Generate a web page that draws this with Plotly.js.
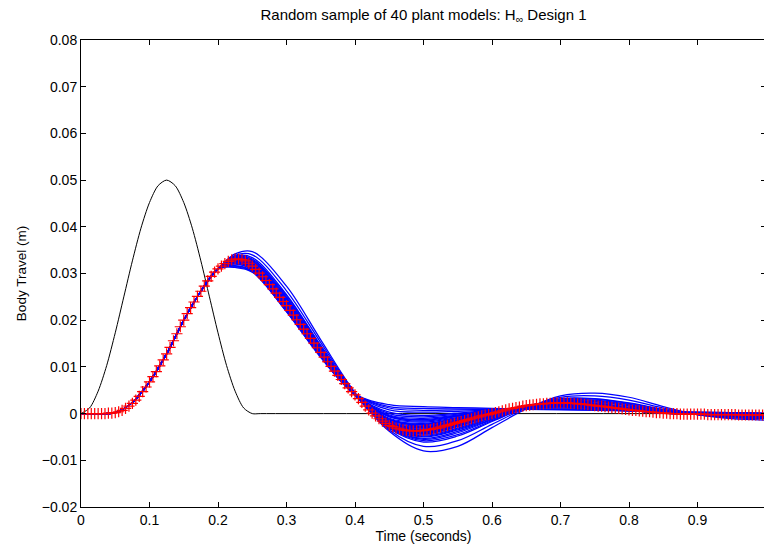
<!DOCTYPE html>
<html><head><meta charset="utf-8">
<script src="https://cdn.plot.ly/plotly-3.0.1.min.js"></script>
<style>html,body{margin:0;padding:0;overflow:hidden;background:#fff}#chart{width:768px;height:544px}</style>
</head><body><div id="chart"></div>
<script>
// Road input (black)
const roadTime = [0, 0.0125, 0.025, 0.0375, 0.05, 0.0625, 0.075, 0.0875, 0.1, 0.1125, 0.125, 0.1375, 0.15, 0.1625, 0.175, 0.1875, 0.2, 0.2125, 0.225, 0.2375, 0.25, 0.2625, 1.0];
const roadHeight = [0, 0.0012, 0.0048, 0.0103, 0.0173, 0.0250, 0.0327, 0.0397, 0.0452, 0.0488, 0.0500, 0.0488, 0.0452, 0.0397, 0.0327, 0.0250, 0.0173, 0.0103, 0.0048, 0.0012, 0, 0, 0];

// Random plant models (blue): common rise, then individual tails
const riseTime = [0, 0.025, 0.05, 0.075, 0.1, 0.125, 0.15, 0.175, 0.2];
const riseBody = [0, 0, 0.0002, 0.0024, 0.0068, 0.0128, 0.0200, 0.0262, 0.0310];
const tailTime = [0.225, 0.25, 0.3, 0.35, 0.4, 0.45, 0.5, 0.55, 0.6, 0.65, 0.7, 0.75, 0.8, 0.85, 0.9, 0.95, 1.0];
const model01 = [.0313, .0303, .0218, .0120, .0042, .0019, .0015, .0013, .0011, .0009, .0008, .0007, .0006, .0004, .0003, .0002, .0001];
const model02 = [.0314, .0304, .0219, .0121, .0042, .0015, .0011, .0010, .0010, .0010, .0009, .0008, .0006, .0004, .0003, .0002, .0001];
const model03 = [.0316, .0305, .0220, .0122, .0042, .0012, .0007, .0008, .0009, .0010, .0010, .0009, .0006, .0004, .0002, .0001, .0000];
const model04 = [.0317, .0306, .0221, .0123, .0042, .0008, .0003, .0005, .0008, .0011, .0012, .0009, .0006, .0003, .0002, .0001, .0000];
const model05 = [.0320, .0308, .0223, .0124, .0041, .0003, -.0004, .0001, .0007, .0012, .0014, .0011, .0007, .0003, .0002, .0001, .0000];
const model06 = [.0322, .0309, .0224, .0125, .0041, -.0003, -.0010, -.0003, .0006, .0013, .0015, .0012, .0007, .0003, .0001, .0000, -.0001];
const model07 = [.0324, .0311, .0226, .0127, .0041, -.0007, -.0016, -.0006, .0004, .0014, .0017, .0013, .0007, .0002, .0001, .0000, -.0001];
const model08 = [.0326, .0312, .0227, .0128, .0041, -.0012, -.0021, -.0009, .0003, .0015, .0019, .0014, .0007, .0002, .0000, -.0001, -.0002];
const model09 = [.0327, .0313, .0228, .0129, .0040, -.0016, -.0026, -.0013, .0002, .0015, .0020, .0015, .0008, .0002, .0000, -.0001, -.0002];
const model10 = [.0329, .0314, .0229, .0130, .0040, -.0020, -.0030, -.0015, .0001, .0016, .0021, .0016, .0008, .0001, -.0001, -.0002, -.0003];
const model11 = [.0330, .0315, .0230, .0130, .0040, -.0022, -.0033, -.0017, .0001, .0016, .0022, .0016, .0008, .0001, -.0001, -.0002, -.0003];
const model12 = [.0331, .0316, .0231, .0131, .0040, -.0025, -.0036, -.0019, .0000, .0017, .0023, .0017, .0008, .0001, -.0001, -.0002, -.0003];
const model13 = [.0332, .0318, .0234, .0133, .0040, -.0026, -.0039, -.0023, -.0002, .0017, .0024, .0019, .0010, .0002, -.0001, -.0003, -.0004];
const model14 = [.0333, .0320, .0237, .0135, .0041, -.0027, -.0042, -.0026, -.0004, .0016, .0025, .0021, .0012, .0003, -.0001, -.0003, -.0005];
const model15 = [.0334, .0323, .0241, .0137, .0041, -.0028, -.0046, -.0031, -.0007, .0015, .0026, .0023, .0014, .0004, -.0001, -.0004, -.0006];
const model16 = [.0335, .0326, .0244, .0140, .0042, -.0029, -.0050, -.0035, -.0010, .0015, .0028, .0026, .0017, .0005, -.0001, -.0005, -.0007];
const model17 = [.0336, .0329, .0249, .0143, .0042, -.0031, -.0055, -.0041, -.0013, .0014, .0029, .0029, .0020, .0007, -.0001, -.0006, -.0008];
const model18 = [.0337, .0334, .0255, .0146, .0043, -.0032, -.0061, -.0048, -.0017, .0013, .0032, .0032, .0023, .0009, -.0002, -.0007, -.0009];
const model19 = [.0339, .0340, .0263, .0152, .0044, -.0035, -.0070, -.0058, -.0023, .0012, .0035, .0038, .0029, .0012, -.0002, -.0009, -.0011];
const model20 = [.0342, .0347, .0273, .0158, .0045, -.0038, -.0080, -.0070, -.0030, .0010, .0038, .0044, .0035, .0015, -.0002, -.0011, -.0014];
const model21 = [.0321, .0308, .0223, .0124, .0041, .0000, -.0007, -.0001, .0006, .0012, .0015, .0011, .0007, .0003, .0001, .0000, -.0001];
const model22 = [.0323, .0310, .0225, .0126, .0041, -.0005, -.0013, -.0004, .0005, .0013, .0016, .0012, .0007, .0003, .0001, .0000, -.0001];
const model23 = [.0325, .0311, .0226, .0127, .0041, -.0010, -.0018, -.0008, .0004, .0014, .0018, .0013, .0007, .0002, .0001, -.0001, -.0001];
const model24 = [.0326, .0312, .0228, .0128, .0041, -.0014, -.0024, -.0011, .0002, .0015, .0019, .0014, .0008, .0002, .0000, -.0001, -.0002];
const model25 = [.0328, .0313, .0229, .0129, .0040, -.0018, -.0028, -.0014, .0001, .0016, .0021, .0016, .0008, .0002, .0000, -.0002, -.0002];
const model26 = [.0329, .0315, .0230, .0130, .0040, -.0021, -.0031, -.0016, .0001, .0016, .0022, .0016, .0008, .0001, -.0001, -.0002, -.0003];
const model27 = [.0331, .0316, .0231, .0131, .0040, -.0024, -.0035, -.0018, .0000, .0017, .0023, .0017, .0008, .0001, -.0001, -.0002, -.0003];
const model28 = [.0332, .0317, .0233, .0132, .0040, -.0026, -.0038, -.0021, -.0001, .0017, .0024, .0018, .0009, .0002, -.0001, -.0003, -.0004];
const model29 = [.0333, .0319, .0236, .0134, .0041, -.0027, -.0040, -.0024, -.0003, .0016, .0025, .0020, .0011, .0003, -.0001, -.0003, -.0005];
const model30 = [.0334, .0322, .0239, .0136, .0041, -.0028, -.0044, -.0028, -.0005, .0016, .0026, .0022, .0013, .0004, -.0001, -.0004, -.0005];
const model31 = [.0335, .0325, .0243, .0139, .0042, -.0029, -.0048, -.0033, -.0009, .0015, .0027, .0025, .0016, .0005, -.0001, -.0005, -.0006];
const model32 = [.0336, .0327, .0247, .0142, .0042, -.0030, -.0053, -.0038, -.0012, .0014, .0029, .0028, .0019, .0006, -.0001, -.0006, -.0008];
const model33 = [.0337, .0331, .0252, .0145, .0043, -.0031, -.0058, -.0045, -.0015, .0013, .0031, .0031, .0022, .0008, -.0002, -.0007, -.0009];
const model34 = [.0330, .0316, .0232, .0131, .0040, -.0023, -.0034, -.0018, .0000, .0016, .0022, .0017, .0009, .0001, -.0001, -.0002, -.0003];
const model35 = [.0331, .0317, .0232, .0132, .0040, -.0025, -.0037, -.0020, -.0001, .0017, .0023, .0018, .0009, .0002, -.0001, -.0002, -.0003];
const model36 = [.0328, .0314, .0228, .0129, .0040, -.0019, -.0029, -.0014, .0002, .0016, .0021, .0015, .0008, .0002, .0000, -.0001, -.0002];
const model37 = [.0333, .0319, .0235, .0134, .0041, -.0026, -.0041, -.0025, -.0003, .0016, .0024, .0020, .0011, .0003, -.0001, -.0003, -.0004];
const model38 = [.0334, .0321, .0238, .0136, .0041, -.0027, -.0043, -.0027, -.0005, .0016, .0025, .0021, .0012, .0003, -.0001, -.0003, -.0005];
const model39 = [.0327, .0312, .0227, .0128, .0041, -.0013, -.0023, -.0010, .0003, .0015, .0019, .0014, .0007, .0002, .0000, -.0001, -.0002];
const model40 = [.0324, .0310, .0225, .0126, .0041, -.0006, -.0014, -.0005, .0005, .0014, .0017, .0013, .0007, .0002, .0001, .0000, -.0001];

// Nominal model (red +), sampled every 0.005 s from 0 to 1
const nominalStart = 0;
const nominalStep = 0.005;
const nominalBody = [
 0, 0, 0, 0, 0, 0, 0, 0, 0.0001, 0.0001,
 0.0002, 0.0004, 0.0007, 0.0011, 0.0016, 0.0022, 0.0029, 0.0037, 0.0047, 0.0057,
 0.0068, 0.0079, 0.0090, 0.0102, 0.0115, 0.0128, 0.0142, 0.0156, 0.0171, 0.0186,
 0.0200, 0.0214, 0.0227, 0.0239, 0.0251, 0.0262, 0.0273, 0.0284, 0.0294, 0.0303,
 0.0310, 0.0316, 0.0321, 0.0326, 0.0329, 0.0331, 0.0331, 0.0330, 0.0327, 0.0322,
 0.0316, 0.0309, 0.0301, 0.0293, 0.0285, 0.0276, 0.0267, 0.0258, 0.0249, 0.0240,
 0.0231, 0.0221, 0.0211, 0.0201, 0.0191, 0.0181, 0.0171, 0.0161, 0.0151, 0.0141,
 0.0131, 0.0121, 0.0111, 0.0101, 0.0091, 0.0082, 0.0073, 0.0064, 0.0055, 0.0047,
 0.0040, 0.0032, 0.0024, 0.0016, 0.0008, 0.0001, -0.0005, -0.0011, -0.0016, -0.0021,
 -0.0025, -0.0028, -0.0031, -0.0033, -0.0035, -0.0036, -0.0037, -0.0037, -0.0037, -0.0037,
 -0.0036, -0.0035, -0.0034, -0.0032, -0.0031, -0.0029, -0.0027, -0.0025, -0.0023, -0.0021,
 -0.0019, -0.0017, -0.0015, -0.0013, -0.0011, -0.0009, -0.0007, -0.0005, -0.0003, -0.0002,
 0.0000, 0.0002, 0.0004, 0.0006, 0.0008, 0.0010, 0.0011, 0.0013, 0.0014, 0.0016,
 0.0017, 0.0018, 0.0019, 0.0020, 0.0021, 0.0021, 0.0022, 0.0022, 0.0023, 0.0023,
 0.0023, 0.0023, 0.0023, 0.0022, 0.0022, 0.0021, 0.0021, 0.0020, 0.0019, 0.0018,
 0.0017, 0.0016, 0.0016, 0.0015, 0.0014, 0.0013, 0.0012, 0.0011, 0.0010, 0.0009,
 0.0008, 0.0007, 0.0007, 0.0006, 0.0005, 0.0004, 0.0004, 0.0003, 0.0002, 0.0002,
 0.0001, 0.0001, 0, 0, 0, -0.0001, -0.0001, -0.0001, -0.0001, -0.0001,
 -0.0001, -0.0001, -0.0001, -0.0002, -0.0002, -0.0002, -0.0002, -0.0002, -0.0002, -0.0002,
 -0.0002, -0.0002, -0.0003, -0.0003, -0.0003, -0.0003, -0.0003, -0.0003, -0.0003, -0.0003,
 -0.0003
];

// Ticks
const xTickVals = [0, 0.1, 0.2, 0.3, 0.4, 0.5, 0.6, 0.7, 0.8, 0.9, 1];
const xTickText = ['0', '0.1', '0.2', '0.3', '0.4', '0.5', '0.6', '0.7', '0.8', '0.9', '1'];
const yTickVals = [-0.02, -0.01, 0, 0.01, 0.02, 0.03, 0.04, 0.05, 0.06, 0.07, 0.08];
const yTickText = ['\u22120.02', '\u22120.01', '0', '0.01', '0.02', '0.03', '0.04', '0.05', '0.06', '0.07', '0.08'];

const models = [model01, model02, model03, model04, model05, model06, model07, model08, model09, model10,
                model11, model12, model13, model14, model15, model16, model17, model18, model19, model20,
                model21, model22, model23, model24, model25, model26, model27, model28, model29, model30,
                model31, model32, model33, model34, model35, model36, model37, model38, model39, model40];

const nominalTime = nominalBody.map((_, i) => +(nominalStart + i * nominalStep).toFixed(4));

const traces = [];
traces.push({x: roadTime, y: roadHeight, type: 'scatter', mode: 'lines',
  line: {color: '#000000', width: 1, shape: 'spline', smoothing: 0.8}, hoverinfo: 'skip'});
models.forEach(m => {
  traces.push({x: riseTime.concat(tailTime), y: riseBody.concat(m), type: 'scatter', mode: 'lines',
    line: {color: '#0000ff', width: 1.25, shape: 'spline', smoothing: 1}, hoverinfo: 'skip'});
});
traces.push({x: nominalTime, y: nominalBody, type: 'scatter', mode: 'markers',
  marker: {symbol: 'cross-thin', size: 8, color: '#ff0000', line: {color: '#ff0000', width: 1.2}}, hoverinfo: 'skip'});

const fontFam = '"Liberation Sans", Arial, Helvetica, sans-serif';
const layout = {
  width: 768, height: 544,
  margin: {l: 81, r: 2, t: 40, b: 37},
  paper_bgcolor: '#ffffff', plot_bgcolor: '#ffffff',
  showlegend: false,
  font: {family: fontFam, size: 14, color: '#000000'},
  title: {text: 'Random sample of 40 plant models: H<sub>\u221e</sub> Design 1',
          x: 0.5, xref: 'paper', xanchor: 'center', y: 1 - 15/544, yref: 'container', yanchor: 'middle',
          font: {family: fontFam, size: 15, color: '#000000'}},
  xaxis: {range: [0, 1], tickmode: 'array', tickvals: xTickVals, ticktext: xTickText,
          ticks: 'inside', ticklen: 5, tickwidth: 1, tickcolor: '#000000',
          showline: true, linecolor: '#000000', linewidth: 1, mirror: 'ticks',
          showgrid: false, zeroline: false, automargin: false,
          tickfont: {family: fontFam, size: 14, color: '#000000'},
          title: {text: 'Time (seconds)', standoff: 1, font: {family: fontFam, size: 14, color: '#000000'}}},
  yaxis: {range: [-0.02, 0.08], tickmode: 'array', tickvals: yTickVals, ticktext: yTickText,
          ticks: 'inside', ticklen: 5, tickwidth: 1, tickcolor: '#000000',
          showline: true, linecolor: '#000000', linewidth: 1, mirror: 'ticks',
          showgrid: false, zeroline: false, automargin: false,
          tickfont: {family: fontFam, size: 14, color: '#000000'},
          title: {text: 'Body Travel (m)', standoff: 12, font: {family: fontFam, size: 13.5, color: '#000000'}}}
};

Plotly.newPlot('chart', traces, layout, {staticPlot: true, displayModeBar: false});
</script>
</body></html>
